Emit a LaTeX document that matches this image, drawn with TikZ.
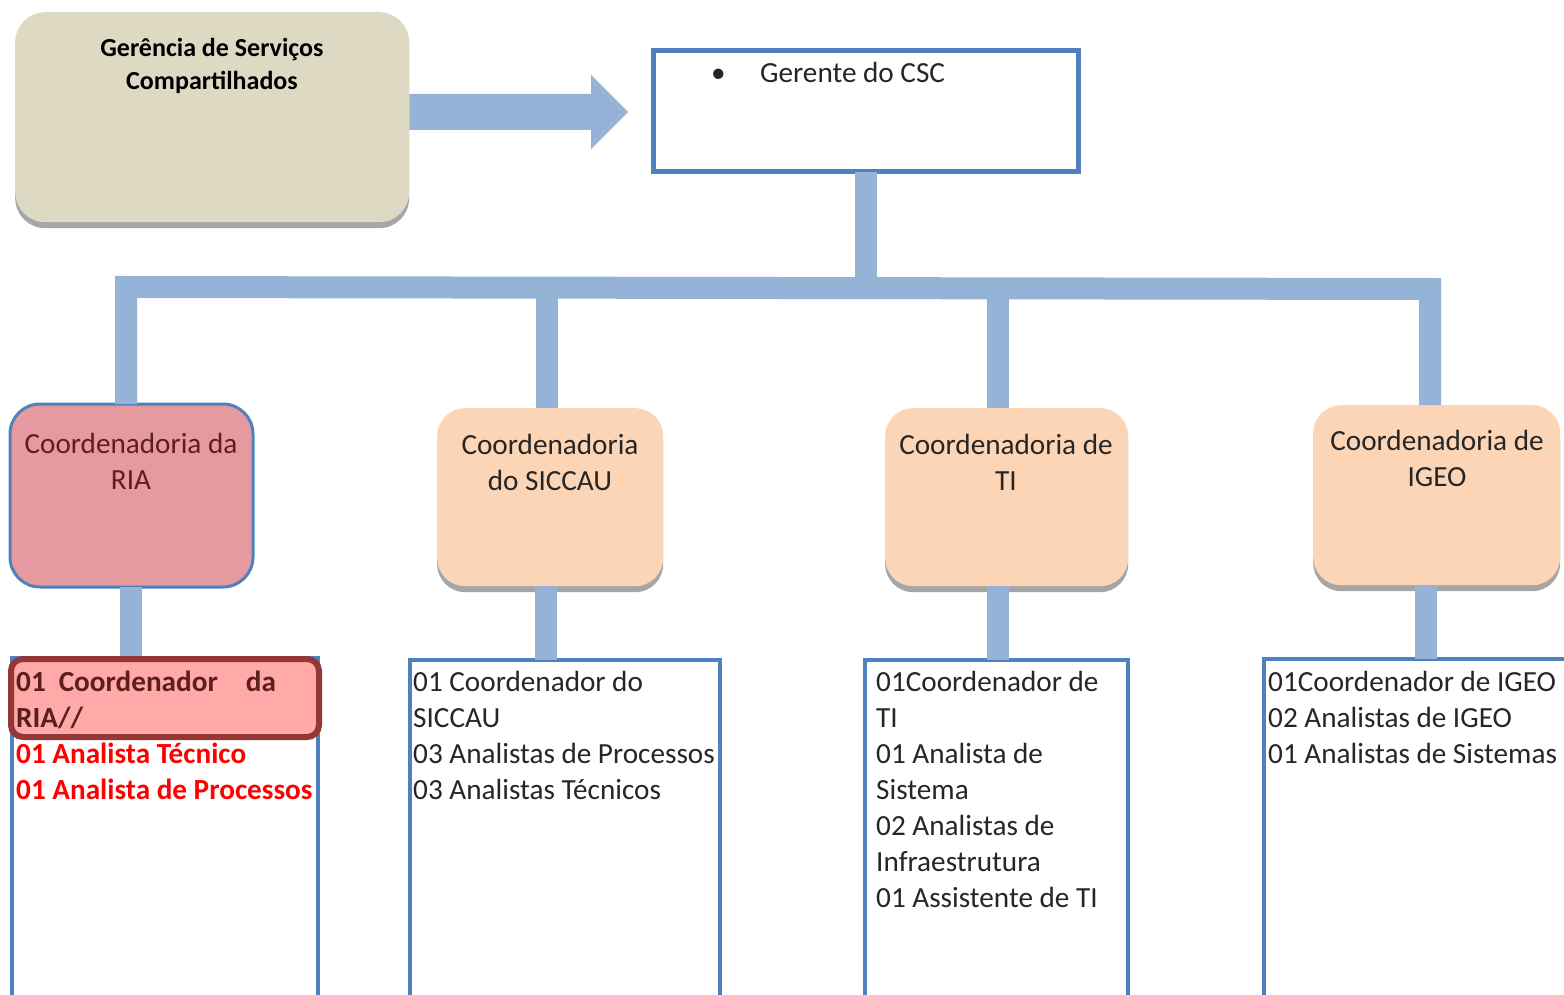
\documentclass[tikz,border=0pt]{standalone}
\usepackage{fontspec}
\setmainfont{Carlito}
\usetikzlibrary{shadows}
\definecolor{tanfill}{HTML}{DDD9C3}
\definecolor{shadowgray}{HTML}{A6A6A6}
\definecolor{connblue}{HTML}{95B3D7}
\definecolor{borderblue}{HTML}{4F81BD}
\definecolor{peach}{HTML}{FBD5B5}
\definecolor{pinkfill}{HTML}{E59AA0}
\definecolor{hlfill}{HTML}{FFA9A9}
\definecolor{hlborder}{HTML}{953735}
\definecolor{darkred}{HTML}{5C1F1E}
\definecolor{txt}{HTML}{262626}
\definecolor{brightred}{HTML}{FF0000}
\tikzset{
  conn/.style={draw=connblue, line width=22pt, line join=miter},
  shadowed/.style={drop shadow={shadow xshift=0pt, shadow yshift=-6pt, fill=shadowgray, opacity=1}},
  tanbox/.style={fill=tanfill, rounded corners=30pt, shadowed, anchor=north west},
  coordbox/.style={fill=peach, rounded corners=28pt, shadowed, anchor=north west},
  riabox/.style={fill=pinkfill, draw=borderblue, line width=3pt, outer sep=0pt, rounded corners=30pt, anchor=north west},
  listbox/.style={draw=borderblue, line width=4pt, outer sep=0pt, anchor=north west},
  hlbox/.style={fill=hlfill, draw=hlborder, line width=6pt, outer sep=0pt, rounded corners=12pt, anchor=north west},
  ttl/.style={font=\fontsize{29.2}{36}\selectfont, text=txt, align=center, inner sep=0pt, anchor=north},
  lst/.style={font=\fontsize{29.2}{36}\selectfont, text=txt, align=left, inner sep=0pt, anchor=north west},
}
\begin{document}
\begin{tikzpicture}[x=1pt,y=-1pt]
\clip (0,0) rectangle (1564,995);
\fill[white] (0,0) rectangle (1564,995);

% top left box
\node[tanbox, minimum width=394pt, minimum height=210pt] (gsc) at (15,12) {};
\node[font=\bfseries\fontsize{26}{33}\selectfont, text=black, align=center, inner sep=0pt, anchor=north] (gsct) at (212,38) {Gerência de Serviços\\Compartilhados};

% gerente box
\node[draw=borderblue, line width=5pt, outer sep=0pt, minimum width=425pt, minimum height=121pt, anchor=north west] (ger) at (653,51) {};
\node[font=\fontsize{29.2}{36}\selectfont, text=txt, inner sep=0pt, anchor=base west] (gert) at (711,83) {\makebox[49pt][l]{•}Gerente do CSC};

% arrow
\fill[connblue] (gsc.east |- 0,94) -- (591,94) -- (591,75) -- ([xshift=-25pt]ger.west |- 0,112) -- (591,149) -- (591,130) -- (gsc.east |- 0,130) -- cycle;

% coordinator boxes
\node[riabox, minimum width=243pt, minimum height=183pt] (cria) at (10,404) {};
\node[ttl, text=darkred] (criat) at (131,433) {Coordenadoria da\\RIA};
\node[coordbox, minimum width=226pt, minimum height=178pt] (csic) at (437,408) {};
\node[ttl] (csict) at (550,434) {Coordenadoria\\do SICCAU};
\node[coordbox, minimum width=243pt, minimum height=178pt] (cti) at (885,408) {};
\node[ttl] (ctit) at (1006,434) {Coordenadoria de\\TI};
\node[coordbox, minimum width=247pt, minimum height=180pt] (cigeo) at (1313,405) {};
\node[ttl] (cigeot) at (1437,430) {Coordenadoria de\\IGEO};

% bus connectors
\coordinate (busL) at (126,287);
\coordinate (busR) at (1430,289);
\draw[conn] (126,0 |- cria.north) -- (busL) -- (busR) -- (1430,0 |- cigeo.north);
\draw[conn] (ger.south) -- (ger.south |- busL);
\draw[conn] (547,0 |- csic.north) -- (547,288);
\draw[conn] (998,0 |- cti.north) -- (998,288);

% list boxes
\node[listbox, minimum width=306pt, minimum height=360pt] (lria) at (12,658) {};
\node[listbox, minimum width=310pt, minimum height=360pt] (lsic) at (410,660) {};
\node[listbox, minimum width=263pt, minimum height=360pt] (lti) at (865,660) {};
\node[listbox, minimum width=320pt, minimum height=360pt] (ligeo) at (1264,659) {};

% lower connectors
\draw[conn] (131,0 |- cria.south) -- (131,0 |- lria.north);
\draw[conn] (546,0 |- csic.south) -- (546,0 |- lsic.north);
\draw[conn] (998,0 |- cti.south) -- (998,0 |- lti.north);
\draw[conn] (1426,0 |- cigeo.south) -- (1426,0 |- ligeo.north);

% RIA list
\node[hlbox, minimum width=308pt, minimum height=78pt] (hl) at (11,659) {};
\node[lst, font=\bfseries\fontsize{29.2}{36}\selectfont, text=darkred] (hlt) at (16,671) {01\hspace{13pt}Coordenador\hspace{28pt}da\\RIA//};
\node[lst, font=\bfseries\fontsize{29.2}{36}\selectfont, text=brightred] (lriat) at (16,743) {01 Analista Técnico\\01 Analista de Processos};

% other lists
\node[lst] (lsict) at (413,671) {01 Coordenador do\\SICCAU\\03 Analistas de Processos\\03 Analistas Técnicos};
\node[lst] (ltit) at (876,671) {01Coordenador de\\TI\\01 Analista de\\Sistema\\02 Analistas de\\Infraestrutura\\01 Assistente de TI};
\node[lst] (ligeot) at (1268,671) {01Coordenador de IGEO\\02 Analistas de IGEO\\01 Analistas de Sistemas};
\end{tikzpicture}
\end{document}
